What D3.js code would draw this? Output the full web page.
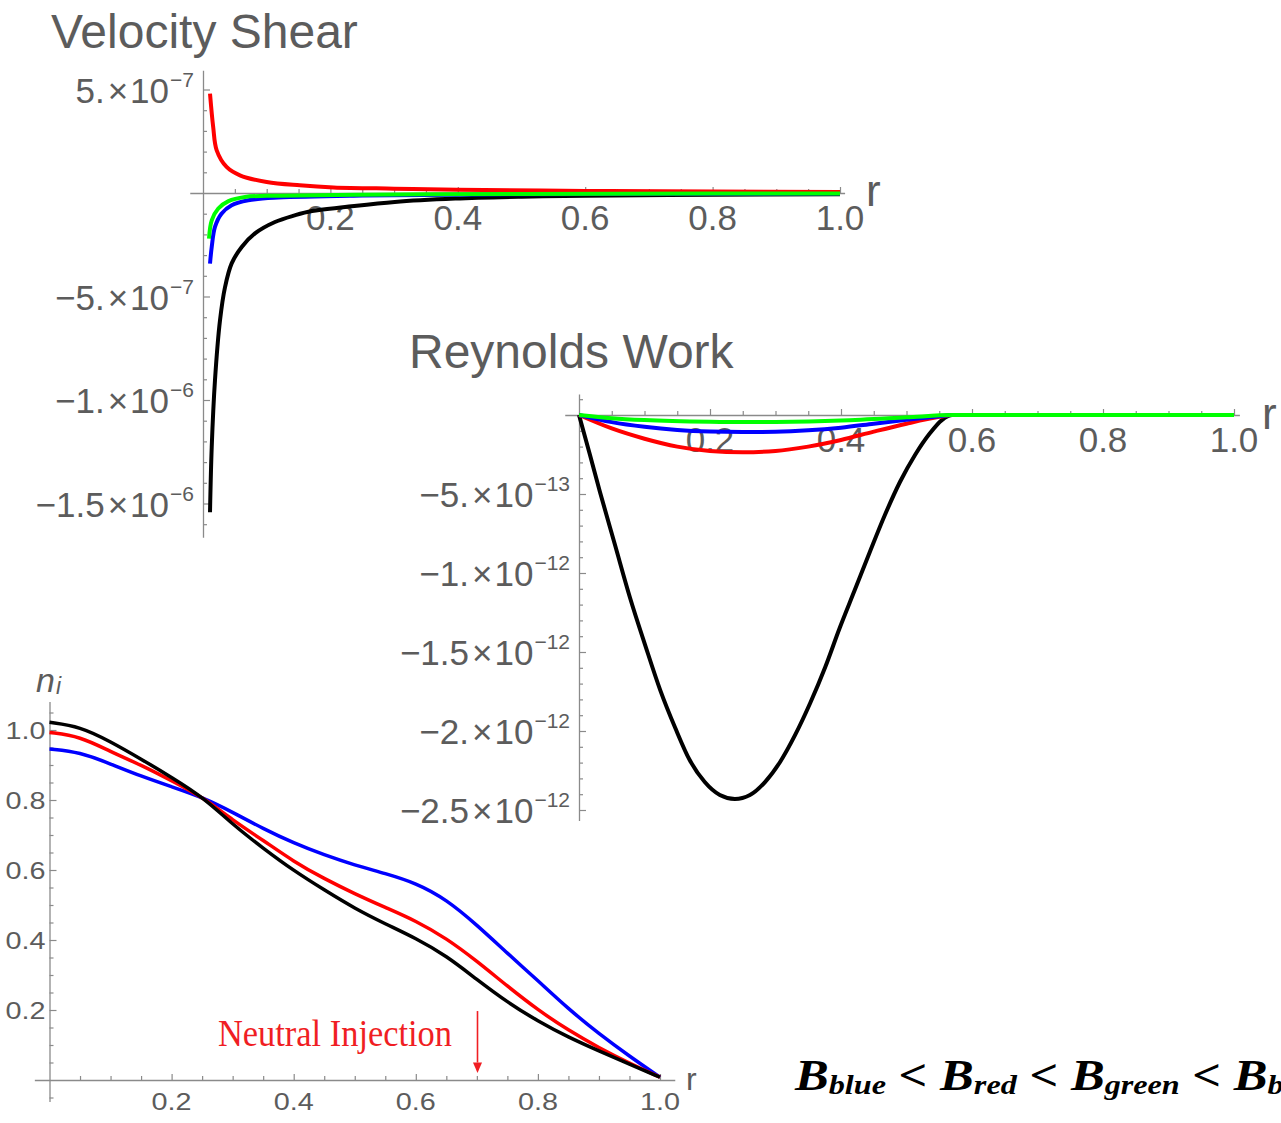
<!DOCTYPE html>
<html>
<head>
<meta charset="utf-8">
<script src="https://cdn.jsdelivr.net/npm/d3@7"></script>
<style>
  html, body { margin: 0; padding: 0; background: #fff; }
  svg { display: block; font-family: "Liberation Sans", Arial, sans-serif; }
</style>
</head>
<body>
<svg id="fig" width="1281" height="1123"></svg>
<script>
// ---------- Velocity shear profiles, [r, value] ----------
const shearBlack = [[0.011,-1.542e-6],[0.0137,-1.227e-6],[0.0188,-0.905e-6],[0.0267,-0.615e-6],[0.0345,-0.456e-6],[0.045,-0.34e-6],[0.0608,-0.261e-6],[0.0816,-0.195e-6],[0.113,-0.14e-6],[0.144,-0.108e-6],[0.171,-0.087e-6],[0.223,-0.068e-6],[0.301,-0.043e-6],[0.396,-0.027e-6],[0.5,-0.018e-6],[0.6,-0.013e-6],[0.8,-0.009e-6],[1.0,-0.006e-6]];
const shearBlue  = [[0.011,-3.41e-7],[0.0137,-2.61e-7],[0.0188,-1.64e-7],[0.029,-1.0e-7],[0.045,-0.59e-7],[0.071,-0.35e-7],[0.118,-0.22e-7],[0.25,-0.12e-7],[0.5,-0.06e-7],[1.0,-0.03e-7]];
const shearRed   = [[0.011,4.8e-7],[0.016,3.19e-7],[0.0215,2.06e-7],[0.037,1.26e-7],[0.058,0.855e-7],[0.1,0.53e-7],[0.152,0.37e-7],[0.205,0.27e-7],[0.3,0.21e-7],[0.4,0.16e-7],[0.6,0.1e-7],[0.8,0.07e-7],[1.0,0.05e-7]];
const shearGreen = [[0.0094,-2.2e-7],[0.0137,-1.32e-7],[0.024,-0.75e-7],[0.04,-0.39e-7],[0.066,-0.19e-7],[0.118,-0.13e-7],[0.3,-0.07e-7],[0.5,-0.05e-7],[0.8,-0.03e-7],[1.0,-0.02e-7]];

// ---------- Reynolds work profiles, [r, value] ----------
const workBlack = [[0,0],[0.0168,-0.253e-12],[0.032,-0.487e-12],[0.055,-0.823e-12],[0.078,-1.158e-12],[0.101,-1.456e-12],[0.124,-1.741e-12],[0.147,-1.981e-12],[0.169,-2.184e-12],[0.192,-2.323e-12],[0.215,-2.405e-12],[0.238,-2.43e-12],[0.261,-2.405e-12],[0.284,-2.323e-12],[0.307,-2.196e-12],[0.33,-2.025e-12],[0.353,-1.823e-12],[0.376,-1.595e-12],[0.398,-1.348e-12],[0.421,-1.108e-12],[0.444,-0.867e-12],[0.467,-0.633e-12],[0.49,-0.424e-12],[0.513,-0.253e-12],[0.536,-0.114e-12],[0.554,-0.032e-12],[0.569,0],[0.7,0],[0.85,0],[1.0,0]];
const workRed   = [[0,0],[0.05,-0.085e-12],[0.1,-0.15e-12],[0.15,-0.2e-12],[0.2,-0.228e-12],[0.25,-0.236e-12],[0.3,-0.228e-12],[0.35,-0.2e-12],[0.4,-0.158e-12],[0.45,-0.105e-12],[0.5,-0.055e-12],[0.55,-0.012e-12],[0.57,0],[0.8,0],[1.0,0]];
const workBlue  = [[0,0],[0.05,-0.045e-12],[0.1,-0.075e-12],[0.15,-0.095e-12],[0.2,-0.105e-12],[0.25,-0.108e-12],[0.3,-0.106e-12],[0.35,-0.097e-12],[0.4,-0.08e-12],[0.45,-0.055e-12],[0.5,-0.03e-12],[0.55,-0.008e-12],[0.57,0],[0.8,0],[1.0,0]];
const workGreen = [[0,0],[0.05,-0.02e-12],[0.1,-0.032e-12],[0.2,-0.043e-12],[0.25,-0.045e-12],[0.3,-0.044e-12],[0.4,-0.035e-12],[0.5,-0.015e-12],[0.57,0],[0.8,0],[1.0,0]];

// ---------- Ion density profiles n_i, [r, value] ----------
const densBlue  = [[0,0.946],[0.05,0.937],[0.1,0.903],[0.15,0.868],[0.2,0.838],[0.253,0.806],[0.3,0.765],[0.35,0.718],[0.4,0.677],[0.45,0.643],[0.5,0.614],[0.55,0.59],[0.6,0.563],[0.65,0.516],[0.7,0.443],[0.75,0.362],[0.8,0.284],[0.85,0.203],[0.9,0.132],[0.95,0.068],[1.0,0.008]];
const densRed   = [[0,0.993],[0.05,0.982],[0.1,0.938],[0.15,0.9],[0.2,0.855],[0.253,0.806],[0.3,0.742],[0.35,0.685],[0.4,0.624],[0.45,0.575],[0.5,0.532],[0.55,0.493],[0.6,0.455],[0.65,0.405],[0.7,0.34],[0.75,0.268],[0.8,0.2],[0.85,0.142],[0.9,0.092],[0.95,0.048],[1.0,0.008]];
const densBlack = [[0,1.022],[0.05,1.01],[0.1,0.967],[0.15,0.917],[0.2,0.865],[0.253,0.806],[0.3,0.73],[0.35,0.662],[0.4,0.598],[0.45,0.543],[0.5,0.49],[0.55,0.446],[0.6,0.405],[0.65,0.355],[0.7,0.287],[0.75,0.222],[0.8,0.168],[0.85,0.122],[0.9,0.083],[0.95,0.045],[1.0,0.008]];

// ---------- Tick labels ----------
const rTickLabels     = [0.2, 0.4, 0.6, 0.8, 1.0];
const shearTickLabels = [5e-7, -5e-7, -1e-6, -1.5e-6];
const workTickLabels  = [-5e-13, -1e-12, -1.5e-12, -2e-12, -2.5e-12];
const densTickLabels  = [0.2, 0.4, 0.6, 0.8, 1.0];

// Annotation
const injectionR = 0.7;
const legendParts = [["B","blue"],["B","red"],["B","green"],["B","b"]];

const svg = d3.select("#fig");
const AXIS = "#8a8a8a", LABEL = "#5c5c5c";
const SERIF = "'Liberation Serif','Times New Roman',serif";

// Mathematica style scientific label: mantissa "5." and exponent "-7"
function sciParts(v) {
  const e = Math.floor(Math.log10(Math.abs(v)) + 1e-9);
  const m = Math.round(v / Math.pow(10, e) * 10) / 10;
  const ms = Number.isInteger(m) ? m + "." : String(m);
  return { mant: ms.replace("-", "\u2212"), exp: String(e).replace("-", "\u2212") };
}

function stepRange(a, b, step) {
  const out = [];
  for (let i = Math.round(a / step); i <= Math.round(b / step); i++) out.push(i * step);
  return out;
}

function drawAxes(g, x, y, o) {
  const x0 = x(0), y0 = y(0);
  g.append("line").attr("x1", x(o.xExt[0])).attr("x2", x(o.xExt[1]))
    .attr("y1", y0 + 0.5).attr("y2", y0 + 0.5).attr("stroke", AXIS).attr("stroke-width", 1.3);
  g.append("line").attr("x1", x0 + 0.5).attr("x2", x0 + 0.5)
    .attr("y1", y(o.yExt[0])).attr("y2", y(o.yExt[1])).attr("stroke", AXIS).attr("stroke-width", 1.3);

  const xMinor = stepRange(0.05, 1.0, 0.05).filter(t => !o.xMajor.some(m => Math.abs(m - t) < 1e-9));
  const yAll = stepRange(o.yTickRange[0], o.yTickRange[1], o.yStep).filter(t => Math.abs(t) > o.yStep / 10);
  const yMinor = yAll.filter(t => !o.yMajor.some(m => Math.abs(m - t) < o.yStep / 10));

  const strip = s => { s.select(".domain").remove(); s.selectAll("text").remove(); };
  g.append("g").attr("transform", `translate(0,${y0})`).attr("color", AXIS)
    .call(d3.axisTop(x).tickValues(xMinor).tickSize(4).tickFormat("")).call(strip);
  g.append("g").attr("transform", `translate(0,${y0})`).attr("color", AXIS)
    .call(d3.axisTop(x).tickValues(o.xMajor).tickSize(6).tickFormat("")).call(strip);
  g.append("g").attr("transform", `translate(${x0},0)`).attr("color", AXIS)
    .call(d3.axisRight(y).tickValues(yMinor).tickSize(4).tickFormat("")).call(strip);
  g.append("g").attr("transform", `translate(${x0},0)`).attr("color", AXIS)
    .call(d3.axisRight(y).tickValues(o.yMajor).tickSize(7).tickFormat("")).call(strip);
  g.selectAll(".tick line").attr("stroke-width", 1.2);
}

function sciLabels(g, x, y, values) {
  const x0 = x(0);
  values.forEach(v => {
    const p = sciParts(v);
    const t = g.append("text").attr("x", x0 - 9).attr("y", y(v) + 13)
      .attr("text-anchor", "end").attr("fill", LABEL).attr("font-size", 35);
    t.append("tspan").text(p.mant);
    t.append("tspan").attr("dx", 3).text("\u00d7");
    t.append("tspan").attr("dx", 2).text("10");
    t.append("tspan").attr("dx", 1).attr("dy", -16).attr("font-size", 21).text(p.exp);
  });
}

function rLabels(g, x, y, values, size, off) {
  values.forEach(v => {
    g.append("text").attr("x", x(v)).attr("y", y(0) + off)
      .attr("text-anchor", "middle").attr("fill", LABEL).attr("font-size", size)
      .text(d3.format(".1f")(v));
  });
}

function curves(g, x, y, series, curve) {
  const line = d3.line().x(d => x(d[0])).y(d => y(d[1])).curve(curve);
  series.forEach(([data, color, w]) => {
    g.append("path").datum(data).attr("d", line).attr("fill", "none")
      .attr("stroke", color).attr("stroke-width", w)
      .attr("stroke-linejoin", "round").attr("stroke-linecap", "butt");
  });
}

// ================= Velocity Shear =================
{
  const g = svg.append("g");
  const x = d3.scaleLinear([0, 1], [203, 840]);
  const y = d3.scaleLinear([-1.5e-6, 5e-7], [503.5, 89.5]);
  g.append("text").attr("x", 51).attr("y", 48).attr("font-size", 48).attr("fill", LABEL).text("Velocity Shear");
  drawAxes(g, x, y, { xExt: [-0.02, 1.008], yExt: [-1.665e-6, 5.9e-7],
    xMajor: rTickLabels, yMajor: [5e-7, -5e-7, -1e-6, -1.5e-6], yTickRange: [-1.6e-6, 5e-7], yStep: 1e-7 });
  rLabels(g, x, y, rTickLabels, 35, 37);
  sciLabels(g, x, y, shearTickLabels);
  g.append("text").attr("x", x(1) + 26).attr("y", y(0) + 13).attr("font-size", 44).attr("fill", LABEL).text("r");
  curves(g, x, y, [[shearBlack, "#000", 4], [shearBlue, "#0000ff", 4], [shearRed, "#ff0000", 4], [shearGreen, "#00ff00", 4]],
    d3.curveCatmullRom.alpha(0.5));
}

// ================= Reynolds Work =================
{
  const g = svg.append("g");
  const x = d3.scaleLinear([0, 1], [579, 1234]);
  const y = d3.scaleLinear([-2.5e-12, 0], [810, 415]);
  g.append("text").attr("x", 409).attr("y", 368).attr("font-size", 48).attr("fill", LABEL).text("Reynolds Work");
  drawAxes(g, x, y, { xExt: [-0.021, 1.009], yExt: [-2.57e-12, 1.3e-13],
    xMajor: rTickLabels, yMajor: workTickLabels, yTickRange: [-2.5e-12, 1e-13], yStep: 1e-13 });
  rLabels(g, x, y, rTickLabels, 35, 37);
  sciLabels(g, x, y, workTickLabels);
  g.append("text").attr("x", x(1) + 28).attr("y", y(0) + 14).attr("font-size", 44).attr("fill", LABEL).text("r");
  curves(g, x, y, [[workBlack, "#000", 4], [workRed, "#ff0000", 4], [workBlue, "#0000ff", 4], [workGreen, "#00ff00", 4]],
    d3.curveMonotoneX);
}

// ================= Ion density n_i =================
{
  const g = svg.append("g");
  const x = d3.scaleLinear([0, 1], [49.5, 660]);
  const y = d3.scaleLinear([0, 1], [1080, 730]);
  drawAxes(g, x, y, { xExt: [-0.024, 1.025], yExt: [-0.063, 1.08],
    xMajor: rTickLabels, yMajor: densTickLabels, yTickRange: [-0.05, 1.05], yStep: 0.05 });
  // horizontally widened tick labels
  rTickLabels.forEach(v => {
    g.append("text").attr("transform", `translate(${x(v)},${y(0) + 30}) scale(1.2,1)`)
      .attr("text-anchor", "middle").attr("fill", LABEL).attr("font-size", 24).text(d3.format(".1f")(v));
  });
  densTickLabels.forEach(v => {
    g.append("text").attr("transform", `translate(${x(0) - 4},${y(v) + 8.5}) scale(1.2,1)`)
      .attr("text-anchor", "end").attr("fill", LABEL).attr("font-size", 24).text(d3.format(".1f")(v));
  });
  const nl = g.append("text").attr("x", 36).attr("y", 692).attr("fill", LABEL).attr("font-style", "italic");
  nl.append("tspan").attr("font-size", 34).text("n");
  nl.append("tspan").attr("font-size", 23).attr("dy", 2).attr("dx", 1).text("i");
  g.append("text").attr("x", x(1) + 26).attr("y", y(0) + 10).attr("font-size", 32).attr("fill", LABEL).text("r");

  // neutral injection marker
  g.append("text").attr("x", 218).attr("y", 1046)
    .attr("font-family", SERIF).attr("font-size", 38)
    .attr("textLength", 234).attr("lengthAdjust", "spacingAndGlyphs")
    .attr("fill", "#f01e23").text("Neutral Injection");
  const ax = Math.round(x(injectionR)) + 0.5;
  g.append("line").attr("x1", ax).attr("x2", ax).attr("y1", y(0.197)).attr("y2", y(0.05))
    .attr("stroke", "#f01e23").attr("stroke-width", 1.6);
  g.append("path").attr("d", `M${ax - 4.5},${y(0.05)}L${ax + 4.5},${y(0.05)}L${ax},${y(0.02)}Z`)
    .attr("fill", "#f01e23");

  curves(g, x, y, [[densBlue, "#0000ff", 3.5], [densRed, "#ff0000", 3.5], [densBlack, "#000", 3.5]],
    d3.curveBasis);
}

// ================= Field ordering legend =================
{
  const t = svg.append("text").attr("transform", "translate(795,1090) scale(1.15,1)")
    .attr("font-family", SERIF).attr("font-weight", "bold").attr("font-style", "italic")
    .attr("fill", "#000").attr("xml:space", "preserve");
  legendParts.forEach(([b, sub], i) => {
    t.append("tspan").attr("font-size", 44).attr("dy", i === 0 ? 0 : -4)
      .text((i === 0 ? "" : " < ") + b);
    t.append("tspan").attr("font-size", 28).attr("dy", 4).text(sub);
  });
}
</script>
</body>
</html>
